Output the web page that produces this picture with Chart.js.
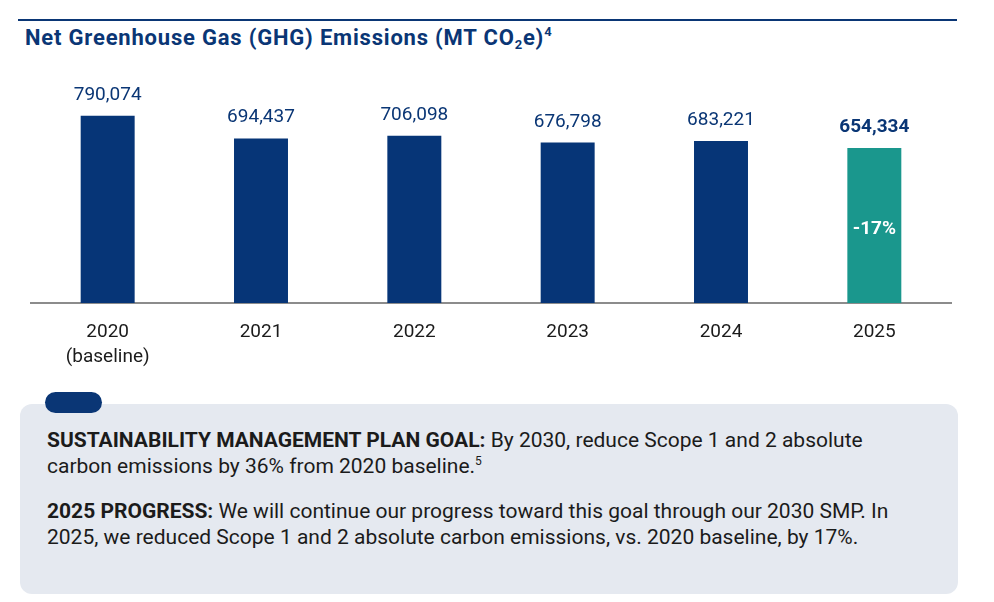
<!DOCTYPE html>
<html>
<head>
<meta charset="utf-8">
<script src="https://cdn.jsdelivr.net/npm/chart.js@4"></script>
<style>
  body { margin: 0; background: #fff; width: 994px; height: 602px; position: relative; overflow: hidden;
         font-family: Roboto, "DejaVu Sans", sans-serif; }
  .rule { position: absolute; left: 18px; top: 19px; width: 939px; height: 2px; background: #0a3675; }
  .title { position: absolute; left: 25px; top: 24px; font-size: 22px; letter-spacing: 0.8px; font-weight: bold; color: #0a3675; white-space: nowrap; }
  .title sub { font-size: 13px; vertical-align: -4px; }
  .title sup { font-size: 13px; vertical-align: 9px; }
  .wrap { position: absolute; left: 0; top: 50px; width: 994px; height: 330px; }
  .box { position: absolute; left: 20px; top: 404px; width: 938px; height: 190px; background: #e5e9f0; border-radius: 12px; }
  .pill { position: absolute; left: 45px; top: 392px; width: 57px; height: 21px; background: #0a3675; border-radius: 11px; }
  .text { position: absolute; left: 47px; width: 860px; font-size: 21px; line-height: 26px; color: #1b1b1b; }
  .text b { font-weight: bold; }
  .text sup { font-size: 12px; vertical-align: 8px; line-height: 0; }
</style>
</head>
<body>
<div class="rule"></div>
<div class="title">Net Greenhouse Gas (GHG) Emissions (MT CO<sub>2</sub>e)<sup>4</sup></div>
<div class="wrap"><canvas id="ghgChart"></canvas></div>
<div class="box"></div>
<div class="pill"></div>
<div class="text" style="top:427px"><b>SUSTAINABILITY MANAGEMENT PLAN GOAL:</b> By 2030, reduce Scope 1 and 2 absolute carbon emissions by 36% from 2020 baseline.<sup>5</sup></div>
<div class="text" style="top:498px"><b>2025 PROGRESS:</b> We will continue our progress toward this goal through our 2030 SMP. In 2025, we reduced Scope 1 and 2 absolute carbon emissions, vs. 2020 baseline, by 17%.</div>
<script>
const years = [["2020", "(baseline)"], "2021", "2022", "2023", "2024", "2025"];
const emissions = [790074, 694437, 706098, 676798, 683221, 654334];
const barColors = ["#063577", "#063577", "#063577", "#063577", "#063577", "#1a978d"];
const changeLabel = "-17%";

const navy = "#0a3675";

// value labels above bars, and the change label inside the last bar
const barLabels = {
  id: "barLabels",
  afterDatasetsDraw(chart) {
    const c = chart.ctx;
    const meta = chart.getDatasetMeta(0);
    c.save();
    c.textAlign = "center";
    c.textBaseline = "alphabetic";
    meta.data.forEach((bar, i) => {
      const last = i === emissions.length - 1;
      c.font = (last ? "bold " : "") + "19px Roboto";
      c.fillStyle = navy;
      c.fillText(emissions[i].toLocaleString("en-US"), bar.x, bar.y - 16);
      if (last) {
        c.fillStyle = "#fff";
        c.textBaseline = "middle";
        c.fillText(changeLabel, bar.x, (bar.y + bar.base) / 2 + 4);
        c.textBaseline = "alphabetic";
      }
    });
    c.restore();
  }
};

new Chart(document.getElementById("ghgChart").getContext("2d"), {
  type: "bar",
  data: {
    labels: years,
    datasets: [{
      data: emissions,
      backgroundColor: barColors,
      barPercentage: 0.352,
      categoryPercentage: 1
    }]
  },
  options: {
    responsive: true,
    maintainAspectRatio: false,
    animation: false,
    layout: { padding: { left: 31, right: 43, top: 16, bottom: 7 } },
    plugins: { legend: { display: false }, tooltip: { enabled: false } },
    scales: {
      x: {
        grid: { display: false },
        border: { display: true, color: "#8c8c8c", width: 2 },
        ticks: { color: "#1b1b1b", padding: 9, font: { size: 19, family: "Roboto", lineHeight: 1.3 }, maxRotation: 0 },
        afterFit(scale) { scale.height = 70; }
      },
      y: {
        display: false,
        min: 0,
        max: 1000000
      }
    }
  },
  plugins: [barLabels]
});
</script>
</body>
</html>
